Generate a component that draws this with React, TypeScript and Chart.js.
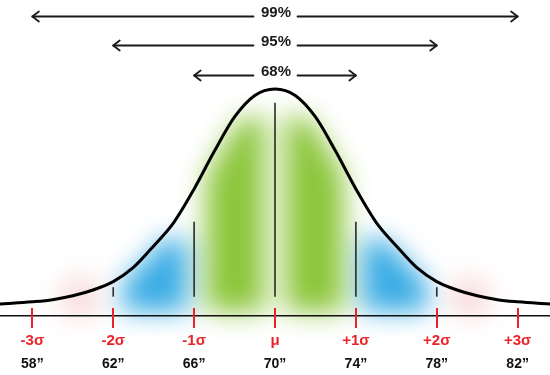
import React, { useEffect, useRef } from 'react';
import { Chart, registerables } from 'chart.js';

Chart.register(...registerables);

// ---- data ----
const sigmaValues = [-3, -2, -1, 0, 1, 2, 3];
const sigmaLabels = ['-3σ', '-2σ', '-1σ', 'μ', '+1σ', '+2σ', '+3σ'];
const inchLabels = ['58”', '62”', '66”', '70”', '74”', '78”', '82”'];

const curveZ = [-3.4, -3.25, -3, -2.75, -2.5, -2.25, -2, -1.75, -1.5, -1.25, -1, -0.75, -0.5, -0.25, 0,
  0.25, 0.5, 0.75, 1, 1.25, 1.5, 1.75, 2, 2.25, 2.5, 2.75, 3, 3.25, 3.4];
const curveHeight = [0, 0.003, 0.01, 0.02, 0.038, 0.065, 0.104, 0.17, 0.27, 0.38, 0.535, 0.71, 0.87, 0.97, 1,
  0.97, 0.87, 0.71, 0.535, 0.38, 0.27, 0.17, 0.104, 0.065, 0.038, 0.02, 0.01, 0.003, 0];

const markerZ = [-2, -1, 0, 1, 2];
const markerTop = [0.078, 0.383, 0.936, 0.383, 0.078];
const markerBase = 0.034;

const coverageLabels = ['99%', '95%', '68%'];
const coverageSpan = [3, 2, 1];
const coverageLevel = [1.34, 1.205, 1.067];

const bandFrom = [-2.62, -1.88, -0.85, 0.13, 1.08, 2.2];
const bandTo = [-2.2, -1.08, -0.13, 0.85, 1.88, 2.62];
const bandKind = ['pink', 'blue', 'green', 'green', 'blue', 'pink'];

// ---- styles ----
const FONT = "'Liberation Sans', Arial, sans-serif";
const RED = 'rgb(236, 34, 40)';
const BLUR_RADIUS = 12; // box radius, 3 passes (~gaussian sigma 12.5px)
const bandStyle: Record<string, { color: string; alpha: number; inset: number; ceil: number; bottom: number; fixed: boolean }> = {
  green: { color: 'rgb(140, 198, 60)', alpha: 1, inset: 0.05, ceil: 0.87, bottom: -0.035, fixed: false },
  blue: { color: 'rgb(58, 172, 228)', alpha: 1, inset: 0.025, ceil: 0.3, bottom: -0.035, fixed: false },
  pink: { color: 'rgb(236, 150, 150)', alpha: 0.4, inset: 0, ceil: 0.11, bottom: -0.05, fixed: true },
};

function curveAt(z: number): number {
  for (let i = 0; i < curveZ.length - 1; i++) {
    if (z >= curveZ[i] && z <= curveZ[i + 1]) {
      const t = (z - curveZ[i]) / (curveZ[i + 1] - curveZ[i]);
      return curveHeight[i] + t * (curveHeight[i + 1] - curveHeight[i]);
    }
  }
  return 0;
}

function boxH(src: Float32Array, dst: Float32Array, w: number, h: number, r: number) {
  const inv = 1 / (2 * r + 1);
  for (let y = 0; y < h; y++) {
    const row = y * w;
    let sum = 0;
    for (let k = -r; k <= r; k++) sum += src[row + Math.min(w - 1, Math.max(0, k))];
    for (let x = 0; x < w; x++) {
      dst[row + x] = sum * inv;
      sum += src[row + Math.min(w - 1, x + r + 1)] - src[row + Math.max(0, x - r)];
    }
  }
}

function boxV(src: Float32Array, dst: Float32Array, w: number, h: number, r: number) {
  const inv = 1 / (2 * r + 1);
  for (let x = 0; x < w; x++) {
    let sum = 0;
    for (let k = -r; k <= r; k++) sum += src[Math.min(h - 1, Math.max(0, k)) * w + x];
    for (let y = 0; y < h; y++) {
      dst[y * w + x] = sum * inv;
      sum += src[Math.min(h - 1, y + r + 1) * w + x] - src[Math.max(0, y - r) * w + x];
    }
  }
}

const decorPlugin = {
  id: 'decor',
  beforeDraw(chart: any) {
    const { ctx } = chart;
    const xs = chart.scales.x;
    const ys = chart.scales.y;
    const W = chart.width;
    const H = chart.height;
    const off = document.createElement('canvas');
    off.width = W;
    off.height = H;
    const o = off.getContext('2d') as CanvasRenderingContext2D;
    o.fillStyle = '#fff';
    o.fillRect(0, 0, W, H);
    for (let i = 0; i < bandFrom.length; i++) {
      const st = bandStyle[bandKind[i]];
      o.save();
      o.globalAlpha = st.alpha;
      o.fillStyle = st.color;
      o.beginPath();
      const N = 30;
      for (let k = 0; k <= N; k++) {
        const z = bandFrom[i] + ((bandTo[i] - bandFrom[i]) * k) / N;
        const hgt = st.fixed ? st.ceil : Math.min(curveAt(z) - st.inset, st.ceil);
        const px = xs.getPixelForValue(z);
        const py = ys.getPixelForValue(hgt);
        if (k === 0) o.moveTo(px, py);
        else o.lineTo(px, py);
      }
      o.lineTo(xs.getPixelForValue(bandTo[i]), ys.getPixelForValue(st.bottom));
      o.lineTo(xs.getPixelForValue(bandFrom[i]), ys.getPixelForValue(st.bottom));
      o.closePath();
      o.fill();
      o.restore();
    }
    const img = o.getImageData(0, 0, W, H);
    const d = img.data;
    const n = W * H;
    const a = new Float32Array(n);
    const b = new Float32Array(n);
    for (let c = 0; c < 3; c++) {
      for (let p = 0; p < n; p++) a[p] = d[p * 4 + c];
      for (let pass = 0; pass < 3; pass++) {
        boxH(a, b, W, H, BLUR_RADIUS);
        boxV(b, a, W, H, BLUR_RADIUS);
      }
      for (let p = 0; p < n; p++) d[p * 4 + c] = a[p];
    }
    for (let p = 0; p < n; p++) d[p * 4 + 3] = 255;
    o.putImageData(img, 0, 0);
    ctx.save();
    ctx.drawImage(off, 0, 0, W, H);
    ctx.restore();
  },
  afterDatasetsDraw(chart: any) {
    const { ctx } = chart;
    const xs = chart.scales.x;
    const axisY = chart.chartArea.bottom;
    ctx.save();
    ctx.strokeStyle = RED;
    ctx.lineWidth = 2;
    for (const v of sigmaValues) {
      const px = Math.round(xs.getPixelForValue(v));
      ctx.beginPath();
      ctx.moveTo(px, axisY - 8);
      ctx.lineTo(px, axisY + 12);
      ctx.stroke();
    }
    ctx.restore();
  },
  afterDraw(chart: any) {
    const { ctx } = chart;
    const xs = chart.scales.x;
    const ys = chart.scales.y;
    ctx.save();
    ctx.font = `bold 15px ${FONT}`;
    ctx.textAlign = 'center';
    ctx.textBaseline = 'alphabetic';
    ctx.strokeStyle = '#1a1a1a';
    ctx.fillStyle = '#1a1a1a';
    ctx.lineWidth = 1.8;
    ctx.lineCap = 'round';
    ctx.lineJoin = 'round';
    const cx = xs.getPixelForValue(0);
    for (let i = 0; i < coverageLabels.length; i++) {
      const y = Math.round(ys.getPixelForValue(coverageLevel[i])) + 0.5;
      const left = xs.getPixelForValue(-coverageSpan[i]);
      const right = xs.getPixelForValue(coverageSpan[i]);
      const half = ctx.measureText(coverageLabels[i]).width / 2 + 6.5;
      ctx.fillText(coverageLabels[i], cx + 1, y + 0.5);
      ctx.beginPath();
      ctx.moveTo(left, y);
      ctx.lineTo(cx - half, y);
      ctx.moveTo(cx + half + 1, y);
      ctx.lineTo(right, y);
      ctx.stroke();
      ctx.beginPath();
      ctx.moveTo(left + 6.5, y - 5);
      ctx.lineTo(left, y);
      ctx.lineTo(left + 6.5, y + 5);
      ctx.moveTo(right - 6.5, y - 5);
      ctx.lineTo(right, y);
      ctx.lineTo(right - 6.5, y + 5);
      ctx.stroke();
    }
    ctx.restore();
  },
};

export default function App() {
  const canvasRef = useRef<HTMLCanvasElement | null>(null);

  useEffect(() => {
    const canvas = canvasRef.current;
    if (!canvas) return;

    const datasets: any[] = [
      {
        label: 'curve',
        data: curveZ.map((z, i) => ({ x: z, y: curveHeight[i] })),
        borderColor: '#000',
        borderWidth: 3,
        pointRadius: 0,
        cubicInterpolationMode: 'monotone',
        fill: false,
        clip: false,
      },
      ...markerZ.map((z, i) => ({
        label: 'marker' + i,
        data: [
          { x: z, y: markerBase },
          { x: z, y: markerTop[i] },
        ],
        borderColor: '#2a2a2a',
        borderWidth: 1.6,
        pointRadius: 0,
        fill: false,
        clip: false,
      })),
    ];

    const redFont = { family: FONT, size: 15, weight: 'bold' as const };
    const blackFont = { family: FONT, size: 14, weight: 'bold' as const };

    const chart = new Chart(canvas, {
      type: 'line',
      data: { datasets },
      options: {
        animation: false,
        responsive: true,
        maintainAspectRatio: false,
        events: [],
        layout: { padding: 0 },
        plugins: {
          legend: { display: false },
          tooltip: { enabled: false },
          title: { display: false },
        },
        scales: {
          x: {
            type: 'linear',
            position: 'bottom',
            weight: 0,
            min: -3.4,
            max: 3.4,
            afterBuildTicks: (s: any) => {
              s.ticks = sigmaValues.map((v) => ({ value: v }));
            },
            afterFit: (s: any) => {
              s.height = 34;
            },
            ticks: {
              autoSkip: false,
              maxRotation: 0,
              color: RED,
              font: redFont,
              padding: 4,
              callback: (v: any) => {
                const i = sigmaValues.indexOf(Number(v));
                return i >= 0 ? sigmaLabels[i] : '';
              },
            },
            grid: { display: true, drawOnChartArea: false, drawTicks: true, tickLength: 12, color: 'rgba(0,0,0,0)' },
            border: { display: true, color: '#111', width: 1.5 },
          },
          x2: {
            type: 'linear',
            position: 'bottom',
            weight: 1,
            min: -3.4,
            max: 3.4,
            afterBuildTicks: (s: any) => {
              s.ticks = sigmaValues.map((v) => ({ value: v }));
            },
            afterFit: (s: any) => {
              s.height = 25;
            },
            ticks: {
              autoSkip: false,
              maxRotation: 0,
              color: '#111',
              font: blackFont,
              padding: 5.6,
              callback: (v: any) => {
                const i = sigmaValues.indexOf(Number(v));
                return i >= 0 ? inchLabels[i] : '';
              },
            },
            grid: { display: false, drawTicks: false, tickLength: 0 },
            border: { display: false },
          },
          y: { display: false, min: -0.056, max: 1.414 },
        },
      } as any,
      plugins: [decorPlugin],
    });

    return () => chart.destroy();
  }, []);

  return (
    <div style={{ position: 'fixed', left: 0, top: 0, width: 550, height: 375, background: '#fff' }}>
      <canvas ref={canvasRef} />
    </div>
  );
}
